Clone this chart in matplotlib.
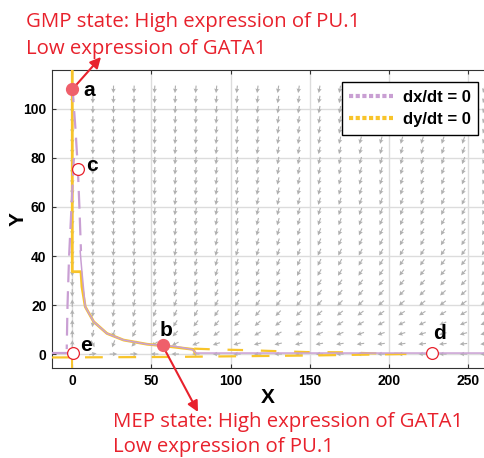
import numpy as np
import matplotlib.pyplot as plt

plt.rcParams["font.family"] = ["Liberation Sans", "DejaVu Sans"]

# nullcline traces
dx_solid_x = [5.0, 5.5, 6.1, 8.2, 13.5, 21.9, 32.4, 47.2, 57.0, 66.0, 76.0, 78.0, 260.0]
dx_solid_y = [42.0, 38.0, 33.6, 19.3, 13.2, 8.4, 5.7, 4.0, 3.5, 3.0, 1.8, 0.4, 0.4]
dx_dash_a_x = [0.0, 2.0, 3.5, 4.5, 5.5]
dx_dash_a_y = [110.0, 92.0, 76.0, 60.0, 42.0]
dx_dash_b_x = [1.0, -0.5, -2.0, -3.0, -3.5]
dx_dash_b_y = [80.0, 60.0, 40.0, 20.0, 2.0]
dx_left_x = [-13.0, 0.0]
dx_left_y = [0.4, 0.4]

dy_solid_x = [0.0, 0.0, 5.5, 6.1, 8.2, 13.5, 21.9, 32.4, 47.2, 57.0, 66.0, 76.5, 77.5]
dy_solid_y = [116.0, 33.6, 33.6, 27.5, 19.3, 13.2, 8.4, 5.7, 4.0, 3.4, 2.7, 1.9, 0.4]
dy_upper_x = [77.0, 89.0, 109.0, 128.0, 148.0, 170.0, 189.0, 211.0]
dy_upper_y = [2.2, 1.9, 1.6, 1.2, 0.8, 0.7, 0.3, 0.0]
dy_lower_x = [-13.0, 60.0, 150.0, 211.0]
dy_lower_y = [-1.4, -1.2, -0.6, 0.0]
dy_stem_x = [0.0, 0.0]
dy_stem_y = [0.0, -6.0]

# fixed points
stable_x = [0.0, 57.0]
stable_y = [108.0, 3.5]
unstable_x = [3.5, 227.0, 0.5]
unstable_y = [75.5, 0.5, 0.5]
point_names = ["a", "b", "c", "d", "e"]
name_x = [7.0, 59.0, 9.0, 232.0, 5.0]
name_y = [107.5, 9.8, 77.0, 8.2, 3.3]

# vector field grid
gx = np.arange(0, 261, 13)
gy = np.linspace(0, 108, 27)

purple = "#c99fd3"
yellow = "#f8c42a"
red = "#e8212c"
dot_red = "#ef5f6b"

fig = plt.figure(figsize=(4.85, 4.58), dpi=100)
ax = fig.add_axes([52 / 485, 90 / 458, 432 / 485, 298 / 458])

X, Y = np.meshgrid(gx, gy)
U = -0.003 * X + 0.6 * np.exp(-Y / 2.0) * (57 - X) / 57
V = -Y / 40.0 + 2.0 * np.exp(-X / 4.0) * (1 - Y / 33.0)
N = np.hypot(U, V)
ax.quiver(X, Y, U / N, V / N, color="#b0b0b0", angles="uv", pivot="mid",
          scale_units="inches", scale=1 / 0.075, width=0.0026,
          headwidth=4, headlength=4, headaxislength=3.5, zorder=2)

ax.plot(dy_solid_x, dy_solid_y, color=yellow, lw=2.0, zorder=3)
ax.plot(dy_upper_x, dy_upper_y, color=yellow, lw=1.6, dashes=(7, 8), zorder=3)
ax.plot(dy_lower_x, dy_lower_y, color=yellow, lw=1.6, dashes=(8, 7), zorder=3)
ax.plot(dy_stem_x, dy_stem_y, color=yellow, lw=1.4, zorder=3)

ax.plot(dx_solid_x, dx_solid_y, color=purple, lw=1.1, zorder=4)
ax.plot(dx_dash_a_x, dx_dash_a_y, color=purple, lw=1.6, dashes=(8, 4), zorder=4)
ax.plot(dx_dash_b_x, dx_dash_b_y, color=purple, lw=1.6, dashes=(8, 4), zorder=4)
ax.plot(dx_left_x, dx_left_y, color=purple, lw=1.6, zorder=4)

ax.plot(stable_x, stable_y, "o", ms=8.5, mfc=dot_red, mec=dot_red, zorder=6)
ax.plot(unstable_x, unstable_y, "o", ms=8.5, mfc="white", mec=red, mew=0.9, zorder=6)
for nm, tx, ty in zip(point_names, name_x, name_y):
    ax.text(tx, ty, nm, fontsize=15, fontweight="bold", va="center",
            ha="center" if nm in ("b", "d") else "left", zorder=7)

# legend handles
ax.plot([], [], color=purple, lw=3, ls=(0, (1, 0.6)), label="dx/dt = 0")
ax.plot([], [], color=yellow, lw=3, ls=(0, (1, 0.6)), label="dy/dt = 0")
leg = ax.legend(loc="upper right", bbox_to_anchor=(478 / 485, 376 / 458),
                bbox_transform=fig.transFigure, fancybox=False, framealpha=1,
                edgecolor="black", handlelength=2.6, handletextpad=0.6,
                borderpad=0.45, labelspacing=0.45, borderaxespad=0,
                prop={"weight": "bold", "size": 12})
leg.get_frame().set_linewidth(1.0)

ax.set_xlim(-12.8, 260)
ax.set_ylim(-5.7, 115.9)
ax.set_xticks([0, 50, 100, 150, 200, 250])
ax.set_yticks([0, 20, 40, 60, 80, 100])
ax.grid(True, color="#dcdcdc", lw=1.0)
ax.set_axisbelow(True)
ax.tick_params(direction="in", top=True, length=3, labelsize=10, color="#333333", pad=4)
for lab in ax.get_xticklabels() + ax.get_yticklabels():
    lab.set_fontweight("bold")
ax.spines["right"].set_visible(False)
for s in ("left", "top", "bottom"):
    ax.spines[s].set_color("#333333")
ax.set_xlabel("X", fontsize=15, fontweight="bold", va="center")
ax.set_ylabel("Y", fontsize=15, fontweight="bold", va="center")
ax.xaxis.set_label_coords(0.5, -0.10)
ax.yaxis.set_label_coords(-0.079, 0.5)

# annotation arrows from the stable points
ax.annotate("", xy=(101, 401), xycoords="figure pixels", xytext=(0, 108),
            textcoords="data", annotation_clip=False,
            arrowprops=dict(arrowstyle="-|>", color=red, lw=1.5, mutation_scale=16,
                            shrinkA=0, shrinkB=0))
ax.annotate("", xy=(198, 46), xycoords="figure pixels", xytext=(57, 3.5),
            textcoords="data", annotation_clip=False,
            arrowprops=dict(arrowstyle="-|>", color=red, lw=1.5, mutation_scale=16,
                            shrinkA=0, shrinkB=0))

tfont = dict(family="Open Sans", color=red, fontsize=14.7, va="baseline", ha="left")
fig.text(26 / 485, 431 / 458, "GMP state: High expression of PU.1", **tfont)
fig.text(26 / 485, 404 / 458, "Low expression of GATA1", **tfont)
fig.text(113 / 485, 31 / 458, "MEP state: High expression of GATA1", **tfont)
fig.text(113 / 485, 6 / 458, "Low expression of PU.1", **tfont)

fig.savefig("out.png", dpi=100)
